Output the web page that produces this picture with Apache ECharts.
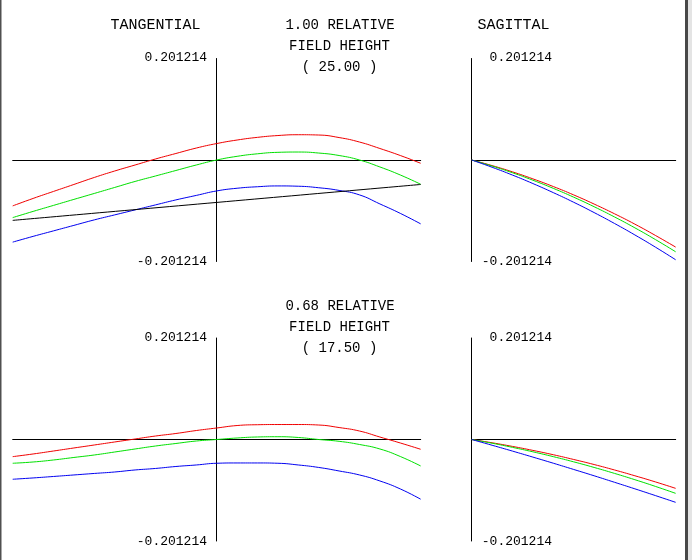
<!DOCTYPE html>
<html>
<head>
<meta charset="utf-8">
<script src="https://cdn.jsdelivr.net/npm/echarts@6/dist/echarts.min.js"></script>
<style>
html,body{margin:0;padding:0;background:#fff;}
#chart{width:692px;height:560px;}
</style>
</head>
<body>
<div id="chart"></div>
<script>
// ---- data ----
const yMax = 0.201214;
const pupilT = [-1,-0.9,-0.8,-0.7,-0.6,-0.5,-0.4,-0.3,-0.2,-0.1,0,0.1,0.2,0.3,0.4,0.5,0.6,0.7,0.8,0.9,1];
const pupilS = [0,0.1,0.2,0.3,0.4,0.5,0.6,0.7,0.8,0.9,1];

// field 1.00 (25.00)
const tan1Red   = [-0.0910,-0.0762,-0.0623,-0.0485,-0.0346,-0.0218,-0.0099,0.0020,0.0129,0.0237,0.0326,0.0396,0.0449,0.0485,0.0501,0.0495,0.0445,0.0356,0.0228,0.0089,-0.0065];
const tan1Green = [-0.1142,-0.1019,-0.0900,-0.0781,-0.0663,-0.0544,-0.0425,-0.0317,-0.0208,-0.0099,0,0.0073,0.0123,0.0152,0.0158,0.0138,0.0089,0,-0.0138,-0.0297,-0.0481];
const tan1Blue  = [-0.1628,-0.1514,-0.1405,-0.1296,-0.1187,-0.1088,-0.0989,-0.0890,-0.0791,-0.0702,-0.0613,-0.0560,-0.0530,-0.0514,-0.0520,-0.0550,-0.0603,-0.0692,-0.0871,-0.1058,-0.1266];
const tan1BlackX = [-1,0,1];
const tan1Black  = [-0.1197,-0.0841,-0.0485];
const sag1Red   = [0,-0.0111,-0.0235,-0.0374,-0.0526,-0.0692,-0.0873,-0.1066,-0.1272,-0.1494,-0.1727];
const sag1Green = [0,-0.0120,-0.0253,-0.0401,-0.0562,-0.0737,-0.0926,-0.1129,-0.1345,-0.1576,-0.1820];
const sag1Blue  = [0,-0.0144,-0.0299,-0.0467,-0.0647,-0.0838,-0.1042,-0.1258,-0.1486,-0.1726,-0.1978];

// field 0.68 (17.50)
const tan2Red   = [-0.0340,-0.0287,-0.0228,-0.0168,-0.0109,-0.0049,0.0010,0.0069,0.0119,0.0178,0.0228,0.0277,0.0293,0.0297,0.0297,0.0287,0.0237,0.0168,0.0049,-0.0069,-0.0194];
const tan2Green = [-0.0471,-0.0446,-0.0406,-0.0356,-0.0307,-0.0248,-0.0188,-0.0129,-0.0079,-0.0030,0,0.0030,0.0050,0.0055,0.0040,0,-0.0036,-0.0099,-0.0188,-0.0337,-0.0525];
const tan2Blue  = [-0.0788,-0.0762,-0.0733,-0.0703,-0.0673,-0.0644,-0.0604,-0.0574,-0.0535,-0.0505,-0.0471,-0.0465,-0.0465,-0.0471,-0.0505,-0.0554,-0.0624,-0.0703,-0.0822,-0.0980,-0.1184];
const sag2Red   = [0,-0.0065,-0.0137,-0.0216,-0.0302,-0.0396,-0.0496,-0.0604,-0.0719,-0.0840,-0.0969];
const sag2Green = [0,-0.0074,-0.0156,-0.0244,-0.0340,-0.0443,-0.0554,-0.0672,-0.0797,-0.0929,-0.1068];
const sag2Blue  = [0,-0.0114,-0.0230,-0.0349,-0.0470,-0.0594,-0.0719,-0.0848,-0.0978,-0.1111,-0.1246];

const headerTexts = ['TANGENTIAL', 'SAGITTAL'];
const field1Texts = ['1.00 RELATIVE', 'FIELD HEIGHT', '( 25.00 )'];
const field2Texts = ['0.68 RELATIVE', 'FIELD HEIGHT', '( 17.50 )'];
const scaleLabels = [yMax.toFixed(6), (-yMax).toFixed(6)];

// ---- chart ----
const FONT = '"Liberation Mono", "DejaVu Sans Mono", monospace';
const RED = '#f00000', GREEN = '#00e000', BLUE = '#0000f0';

function pairs(xs, ys) { return xs.map((x, i) => [x, ys[i]]); }

const grids = [
  { left: 12.7, top: 58.5, width: 408, height: 203, containLabel: false, outerBoundsMode: 'none' },
  { left: 471.7, top: 58.5, width: 204, height: 203, containLabel: false, outerBoundsMode: 'none' },
  { left: 12.7, top: 338, width: 408, height: 203, containLabel: false, outerBoundsMode: 'none' },
  { left: 471.7, top: 338, width: 204, height: 203, containLabel: false, outerBoundsMode: 'none' }
];

function xAx(i, min) {
  return {
    gridIndex: i, type: 'value', min: min, max: 1,
    axisLine: { show: true, onZero: true, lineStyle: { color: '#000', width: 1 } },
    axisTick: { show: false }, axisLabel: { show: false }, splitLine: { show: false }
  };
}
function yAx(i) {
  return {
    gridIndex: i, type: 'value', min: -yMax, max: yMax, interval: yMax,
    axisLine: { show: true, onZero: true, lineStyle: { color: '#000', width: 1 } },
    axisTick: { show: false }, splitLine: { show: false }, axisLabel: { show: false }
  };
}

function line(idx, xs, ys, color) {
  return {
    type: 'line', xAxisIndex: idx, yAxisIndex: idx,
    data: pairs(xs, ys), showSymbol: false, smooth: true,
    lineStyle: { color: color, width: 1 }, silent: true, z: 3
  };
}

function txt(s, x, y, size, align) {
  return {
    type: 'text', x: x, y: y, silent: true,
    style: { text: s, fill: '#000', font: size + 'px ' + FONT, align: align, verticalAlign: 'middle', textAlign: align, textVerticalAlign: 'middle' }
  };
}

const option = {
  animation: false,
  backgroundColor: '#fff',
  grid: grids,
  xAxis: [xAx(0, -1), xAx(1, 0), xAx(2, -1), xAx(3, 0)],
  yAxis: [yAx(0), yAx(1), yAx(2), yAx(3)],
  series: [
    line(0, pupilT, tan1Red, RED),
    line(0, pupilT, tan1Green, GREEN),
    line(0, pupilT, tan1Blue, BLUE),
    line(0, tan1BlackX, tan1Black, '#000'),
    line(1, pupilS, sag1Red, RED),
    line(1, pupilS, sag1Green, GREEN),
    line(1, pupilS, sag1Blue, BLUE),
    line(2, pupilT, tan2Red, RED),
    line(2, pupilT, tan2Green, GREEN),
    line(2, pupilT, tan2Blue, BLUE),
    line(3, pupilS, sag2Red, RED),
    line(3, pupilS, sag2Green, GREEN),
    line(3, pupilS, sag2Blue, BLUE)
  ],
  graphic: [
    txt(headerTexts[0], 155.5, 25, 15, 'center'),
    txt(headerTexts[1], 513.5, 25, 15, 'center'),
    txt(field1Texts[0], 340, 25, 14, 'center'),
    txt(field1Texts[1], 339.5, 46.5, 14, 'center'),
    txt(field1Texts[2], 339.5, 67.5, 14, 'center'),
    txt(field2Texts[0], 340, 306, 14, 'center'),
    txt(field2Texts[1], 339.5, 327.5, 14, 'center'),
    txt(field2Texts[2], 339.5, 348.5, 14, 'center'),
    txt(scaleLabels[0], 207, 57.5, 13, 'right'),
    txt(scaleLabels[1], 207, 261.5, 13, 'right'),
    txt(scaleLabels[0], 552, 57.5, 13, 'right'),
    txt(scaleLabels[1], 552, 261.5, 13, 'right'),
    txt(scaleLabels[0], 207, 338, 13, 'right'),
    txt(scaleLabels[1], 207, 541.5, 13, 'right'),
    txt(scaleLabels[0], 552, 337.5, 13, 'right'),
    txt(scaleLabels[1], 552, 541.5, 13, 'right'),
    { type: 'rect', silent: true, shape: { x: 0, y: 0, width: 1.5, height: 560 }, style: { fill: '#505050' } },
    { type: 'rect', silent: true, shape: { x: 685, y: 0, width: 3, height: 560 }, style: { fill: '#484848' } },
    { type: 'rect', silent: true, shape: { x: 688, y: 0, width: 4, height: 560 }, style: { fill: '#e4e4e4' } }
  ]
};

const chart = echarts.init(document.getElementById('chart'), null, { renderer: 'canvas' });
chart.setOption(option);
</script>
</body>
</html>
